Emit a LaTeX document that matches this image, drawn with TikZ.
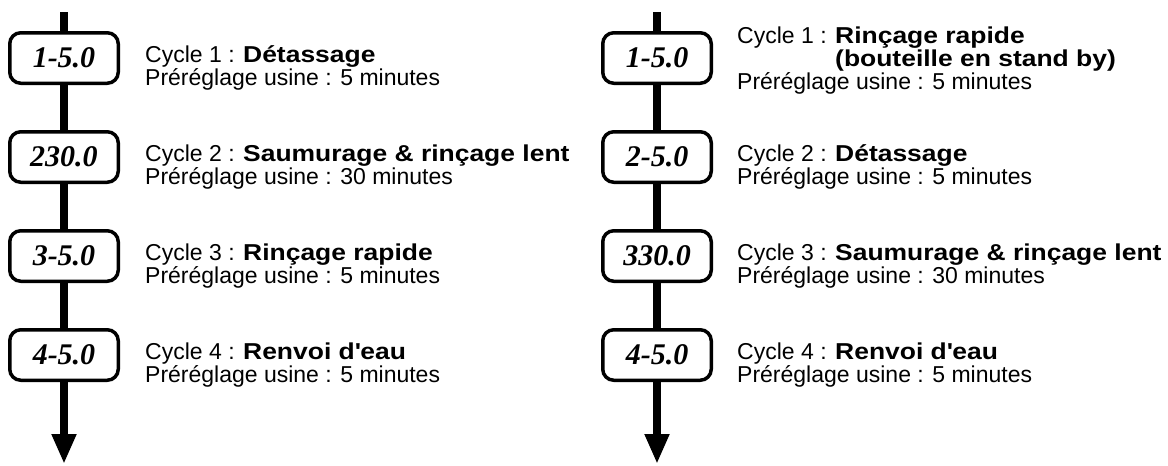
\documentclass[tikz,border=0pt]{standalone}
\usepackage{fontspec}
\setmainfont{Liberation Sans}[BoldFeatures={FakeStretch=1.15}]
\newfontfamily\labelserif{Liberation Serif}
\usetikzlibrary{arrows.meta}
\newcommand\steplabelfont{\fontsize{30}{30}\selectfont\labelserif\bfseries\itshape}
\newcommand\steptextfont{\fontsize{23}{23}\selectfont}

\begin{document}
\begin{tikzpicture}[x=1pt,y=-1pt,
  flow/.style={line width=7.5pt},
  flowend/.style={flow,-{Triangle[width=23pt,length=30pt]}},
  stepbox/.style={draw, line width=3.5pt, rounded corners=11pt,
    minimum width=108.5pt, minimum height=50.5pt, inner sep=0pt,
    fill=white, font=\steplabelfont},
  txt/.style={anchor=base west, inner sep=0pt, font=\steptextfont}]
\useasboundingbox (0,0) rectangle (1168,466);

% ---------- left sequence ----------
\coordinate (ltop) at (64,12);
\coordinate (lend) at (64,464);
\node[stepbox] (l1) at (64,58)  {1-5.0};
\node[stepbox] (l2) at (64,157) {230.0};
\node[stepbox] (l3) at (64,256) {3-5.0};
\node[stepbox] (l4) at (64,355) {4-5.0};
\draw[flow] (ltop) -- (l1);
\draw[flow] (l1) -- (l2);
\draw[flow] (l2) -- (l3);
\draw[flow] (l3) -- (l4);
\draw[flowend] (l4) -- (lend);

\node[txt] (l1a) at (145,62)  {Cycle 1 : \textbf{Détassage}};
\node[txt] (l1b) at (145,85)  {Préréglage usine : 5 minutes};
\node[txt] (l2a) at (145,161) {Cycle 2 : \textbf{Saumurage \& rinçage lent}};
\node[txt] (l2b) at (145,184) {Préréglage usine : 30 minutes};
\node[txt] (l3a) at (145,260) {Cycle 3 : \textbf{Rinçage rapide}};
\node[txt] (l3b) at (145,283) {Préréglage usine : 5 minutes};
\node[txt] (l4a) at (145,359) {Cycle 4 : \textbf{Renvoi d\textquotesingle eau}};
\node[txt] (l4b) at (145,382) {Préréglage usine : 5 minutes};

% ---------- right sequence ----------
\coordinate (rtop) at (657,12);
\coordinate (rend) at (657,464);
\node[stepbox] (r1) at (657,58)  {1-5.0};
\node[stepbox] (r2) at (657,157) {2-5.0};
\node[stepbox] (r3) at (657,256) {330.0};
\node[stepbox] (r4) at (657,355) {4-5.0};
\draw[flow] (rtop) -- (r1);
\draw[flow] (r1) -- (r2);
\draw[flow] (r2) -- (r3);
\draw[flow] (r3) -- (r4);
\draw[flowend] (r4) -- (rend);

\node[txt] (r1a) at (737,43)  {Cycle 1 : \textbf{Rinçage rapide}};
\node[txt] (r1b) at (737,66)  {\phantom{Cycle 1 : }\textbf{(bouteille en stand by)}};
\node[txt] (r1c) at (737,89)  {Préréglage usine : 5 minutes};
\node[txt] (r2a) at (737,161) {Cycle 2 : \textbf{Détassage}};
\node[txt] (r2b) at (737,184) {Préréglage usine : 5 minutes};
\node[txt] (r3a) at (737,260) {Cycle 3 : \textbf{Saumurage \& rinçage lent}};
\node[txt] (r3b) at (737,283) {Préréglage usine : 30 minutes};
\node[txt] (r4a) at (737,359) {Cycle 4 : \textbf{Renvoi d\textquotesingle eau}};
\node[txt] (r4b) at (737,382) {Préréglage usine : 5 minutes};
\end{tikzpicture}
\end{document}
